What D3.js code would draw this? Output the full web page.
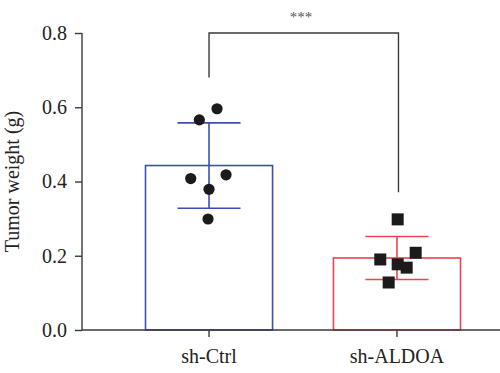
<!DOCTYPE html>
<html>
<head>
<meta charset="utf-8">
<script src="https://cdn.jsdelivr.net/npm/d3@7"></script>
<style>
  body { margin: 0; background: #fff; }
  text { font-family: "Liberation Serif", "DejaVu Serif", serif; }
</style>
</head>
<body>
<div class="canvas"></div>
<script>
// data
const groups = ['sh-Ctrl', 'sh-ALDOA'];
const means = [0.443, 0.194];
const sds = [0.115, 0.058];
const ctrlPoints = [0.566, 0.596, 0.408, 0.418, 0.379, 0.299];
const ctrlJitter = [-9.7, 8, -18.3, 17, 0, -1];
const aldoaPoints = [0.298, 0.208, 0.190, 0.177, 0.168, 0.128];
const aldoaJitter = [0.7, 18.7, -16.7, 0.7, 9.7, -8.3];
const yTicks = [0, 0.2, 0.4, 0.6, 0.8];
const colors = ['#3b4fb0', '#f0414f'];

const width = 500, height = 373;
const svg = d3.select('.canvas')
  .append('svg')
    .attr('width', width)
    .attr('height', height);

const margin = { top: 33, left: 82, bottom: 43 };

const y = d3.scaleLinear()
  .domain([0, 0.8])
  .range([height - margin.bottom, margin.top]);

const x = d3.scaleBand()
  .domain(groups)
  .range([145.5, 460.5])
  .paddingInner(0.324)
  .paddingOuter(0);

const cx = g => x(g) + x.bandwidth() / 2;

// bars (outline only)
svg.selectAll('rect.bar')
  .data(groups)
  .enter()
  .append('rect')
    .attr('class', 'bar')
    .attr('x', g => x(g))
    .attr('y', (g, i) => y(means[i]))
    .attr('width', x.bandwidth())
    .attr('height', (g, i) => y(0) - y(means[i]))
    .attr('fill', 'none')
    .attr('stroke', (g, i) => colors[i])
    .attr('stroke-width', 1.6);

// error bars
const capHalf = 31.5;
groups.forEach((g, i) => {
  const e = svg.append('g').attr('stroke', colors[i]).attr('stroke-width', 1.6);
  e.append('line')
    .attr('x1', cx(g)).attr('x2', cx(g))
    .attr('y1', y(means[i] + sds[i])).attr('y2', y(means[i] - sds[i]));
  [means[i] + sds[i], means[i] - sds[i]].forEach(v => {
    e.append('line')
      .attr('x1', cx(g) - capHalf).attr('x2', cx(g) + capHalf)
      .attr('y1', y(v)).attr('y2', y(v));
  });
});

// points
svg.selectAll('circle.pt')
  .data(ctrlPoints)
  .enter()
  .append('circle')
    .attr('class', 'pt')
    .attr('cx', (d, i) => cx('sh-Ctrl') + ctrlJitter[i])
    .attr('cy', d => y(d))
    .attr('r', 5.6)
    .attr('fill', '#1c1a1b');

const sq = 12;
svg.selectAll('rect.pt')
  .data(aldoaPoints)
  .enter()
  .append('rect')
    .attr('class', 'pt')
    .attr('x', (d, i) => cx('sh-ALDOA') + aldoaJitter[i] - sq / 2)
    .attr('y', d => y(d) - sq / 2)
    .attr('width', sq)
    .attr('height', sq)
    .attr('fill', '#1c1a1b');

// axes
const yAxis = d3.axisLeft(y)
  .tickValues(yTicks)
  .tickSize(7)
  .tickFormat(d3.format('.1f'));

const yAxisGroup = svg.append('g')
  .attr('transform', `translate(${margin.left}, 0)`)
  .call(yAxis);
yAxisGroup.select('.domain').attr('d', `M0,${y(0.8)}V${y(0)}`);

const xAxis = d3.axisBottom(x).tickSize(7).tickSizeOuter(0);
const xAxisGroup = svg.append('g')
  .attr('transform', `translate(0, ${y(0)})`)
  .call(xAxis);
xAxisGroup.select('.domain').attr('d', `M${margin.left},0H${width}`);

[yAxisGroup, xAxisGroup].forEach(a => {
  a.attr('font-size', null).attr('font-family', null);
  a.selectAll('.domain, line').attr('stroke', '#3a3a3a').attr('stroke-width', 1.4);
  a.selectAll('text')
    .attr('fill', '#222')
    .attr('font-size', 20);
});
yAxisGroup.selectAll('text').attr('x', -15);
xAxisGroup.selectAll('text').attr('y', 19);

// y label
svg.append('text')
  .attr('transform', `translate(19, ${(y(0) + y(0.8)) / 2}) rotate(-90)`)
  .attr('text-anchor', 'middle')
  .attr('fill', '#222')
  .attr('font-size', 20)
  .text('Tumor weight (g)');

// significance bracket
const bracket = d3.line();
svg.append('path')
  .attr('d', bracket([
    [cx('sh-Ctrl'), y(0.68)],
    [cx('sh-Ctrl'), y(0.8)],
    [cx('sh-ALDOA') + 1.5, y(0.8)],
    [cx('sh-ALDOA') + 1.5, y(0.371)]
  ]))
  .attr('fill', 'none')
  .attr('stroke', '#3a3a3a')
  .attr('stroke-width', 1.4);

svg.append('text')
  .attr('x', (cx('sh-Ctrl') + cx('sh-ALDOA')) / 2 - 2)
  .attr('y', 22)
  .attr('text-anchor', 'middle')
  .attr('fill', '#555')
  .attr('font-size', 15)
  .text('***');
</script>
</body>
</html>
